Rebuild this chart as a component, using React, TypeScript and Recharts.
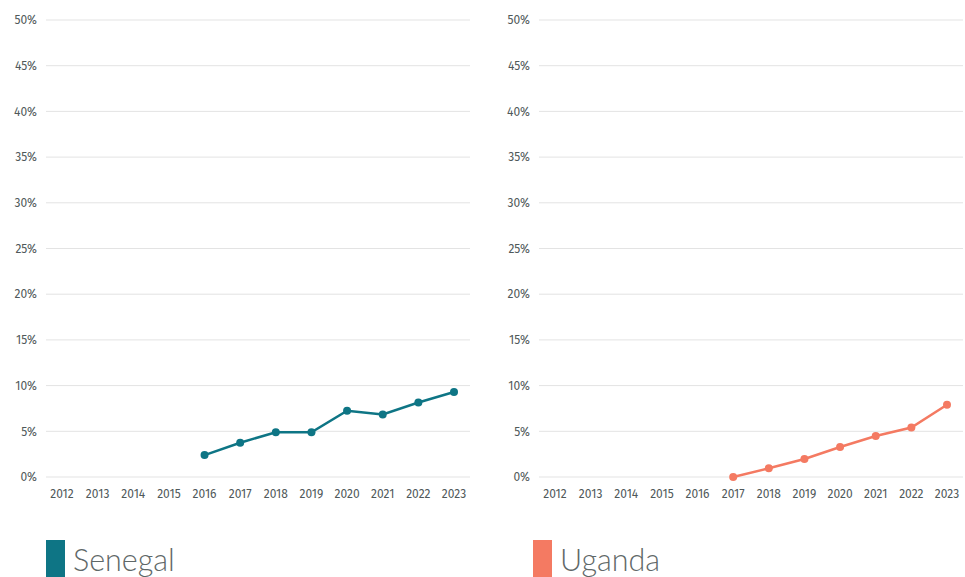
import React from "react";
import { LineChart, Line, XAxis, YAxis, CartesianGrid } from "recharts";

const years = ["2012", "2013", "2014", "2015", "2016", "2017", "2018", "2019", "2020", "2021", "2022", "2023"];
const senegal: (number | null)[] = [null, null, null, null, 2.4, 3.75, 4.9, 4.9, 7.25, 6.85, 8.15, 9.3];
const uganda: (number | null)[] = [null, null, null, null, null, 0, 0.95, 1.97, 3.28, 4.48, 5.42, 7.9];
const yTicks = [0, 5, 10, 15, 20, 25, 30, 35, 40, 45, 50];

const FONT = "'Fira Sans', 'Open Sans', sans-serif";
const LEGEND_FONT = "Lato, 'Noto Sans', sans-serif";
const TICK_COLOR = "#50595a";

function build(values: (number | null)[]) {
  return years.map((y, i) => ({ year: y, value: values[i] }));
}

function Panel({ values, color, left }: { values: (number | null)[]; color: string; left: number }) {
  return (
    <div style={{ position: "absolute", left, top: 0 }}>
      <LineChart width={480} height={510} data={build(values)} margin={{ top: 20, right: 10, bottom: 3, left: 0 }}>
        <CartesianGrid vertical={false} stroke="#e3e3e3" strokeWidth={1} />
        <XAxis
          dataKey="year"
          axisLine={false}
          tickLine={false}
          padding={{ left: 16, right: 16 }}
          tick={{ fontSize: 12, fill: TICK_COLOR, fontFamily: FONT }}
          tickMargin={6}
          interval={0}
          height={30}
        />
        <YAxis
          width={46}
          domain={[0, 50]}
          ticks={yTicks}
          axisLine={false}
          tickLine={false}
          tickMargin={3}
          tickFormatter={(v: number) => `${v}%`}
          tick={{ fontSize: 12, fill: TICK_COLOR, fontFamily: FONT }}
        />
        <Line
          type="linear"
          dataKey="value"
          stroke={color}
          strokeWidth={2.5}
          dot={{ r: 4, fill: color, stroke: color, strokeWidth: 0 }}
          activeDot={false}
          isAnimationActive={false}
          connectNulls={false}
        />
      </LineChart>
    </div>
  );
}

function Legend({ label, color, left }: { label: string; color: string; left: number }) {
  return (
    <div style={{ position: "absolute", left, top: 539, display: "flex", alignItems: "center" }}>
      <div style={{ width: 19, height: 37, background: color }} />
      <div
        style={{
          marginLeft: 8,
          fontFamily: LEGEND_FONT,
          fontWeight: 300,
          fontSize: 30.5,
          color: "#5f6868",
          lineHeight: "37px",
          marginTop: 2,
        }}
      >
        {label}
      </div>
    </div>
  );
}

export default function App() {
  return (
    <div style={{ position: "fixed", left: 0, top: 0, width: 965, height: 577, background: "#fff", overflow: "hidden" }}>
      <Panel values={senegal} color="#0e7585" left={0} />
      <Panel values={uganda} color="#f47a62" left={493} />
      <Legend label="Senegal" color="#0e7585" left={46} />
      <Legend label="Uganda" color="#f47a62" left={533} />
    </div>
  );
}
